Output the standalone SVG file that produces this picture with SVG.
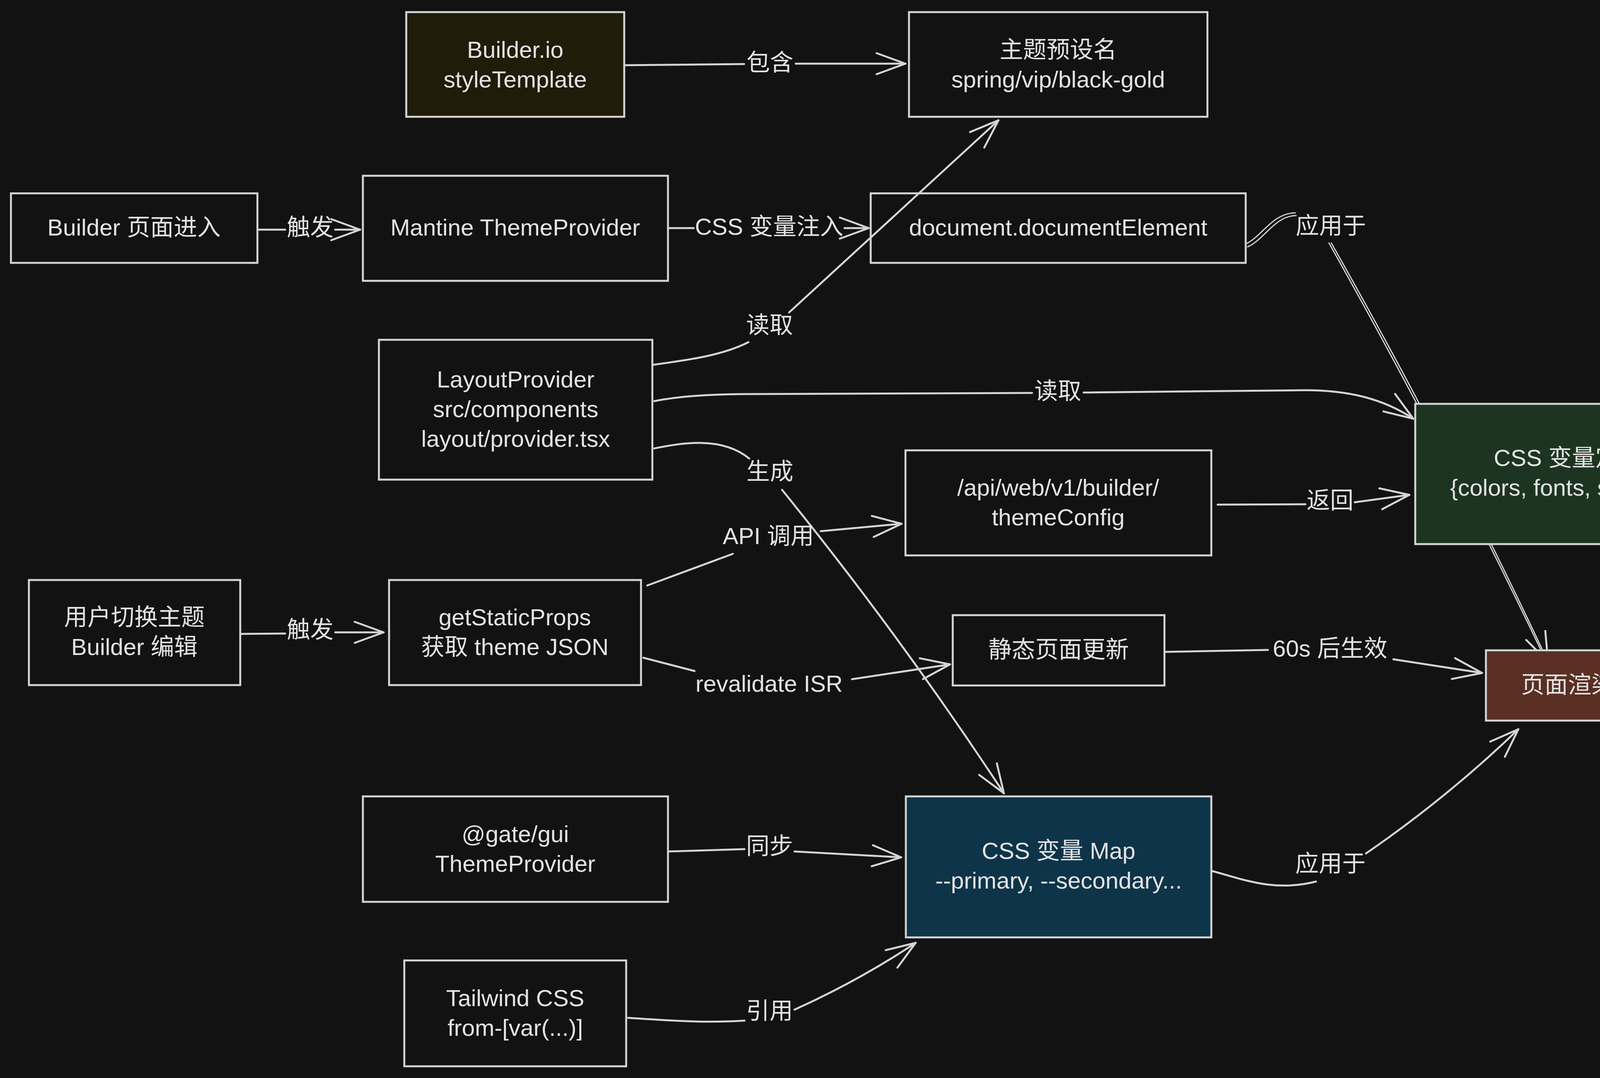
<svg xmlns="http://www.w3.org/2000/svg" width="4434" height="2760" viewBox="0 0 4434 2760">
<style>
.bg{fill:#121212}
.node{fill:none;stroke:#d4d4d4;stroke-width:5}
.t{font-family:"Liberation Sans","Noto Sans CJK SC",sans-serif;font-size:60px;fill:#e3e3e3;text-anchor:middle;dominant-baseline:central}
.e{fill:none;stroke:#d4d4d4;stroke-width:5;stroke-linecap:round;stroke-linejoin:round}
.e2{fill:none;stroke:#d4d4d4;stroke-width:3;stroke-linecap:round}
.arr{marker-end:url(#arr)}
</style>
<defs>
<marker id="arr" viewBox="-90 -45 100 90" refX="0" refY="0" markerWidth="100" markerHeight="90" markerUnits="userSpaceOnUse" orient="auto" overflow="visible">
<path d="M-74,-27 L0,0 L-74,27" fill="none" stroke="#d4d4d4" stroke-width="5" stroke-linecap="round" stroke-linejoin="round"/>
</marker>
</defs>
<rect class="bg" x="0" y="0" width="4434" height="2760"/>

<g id="connectors">
<!-- 包含 -->
<path class="e" d="M1598,167 L1905,164"/>
<path class="e arr" d="M2037,163 L2318,163"/>
<text class="t" x="1971" y="160">包含</text>
<!-- 触发 (top) -->
<path class="e" d="M660,588 L730,588"/>
<path class="e arr" d="M858,588 L922,588"/>
<text class="t" x="794" y="582">触发</text>
<!-- CSS 变量注入 -->
<path class="e" d="M1710,584 L1776,584"/>
<path class="e arr" d="M2162,584 L2224,584"/>
<text class="t" x="1969" y="580">CSS 变量注入</text>
<!-- 应用于 (documentElement -> 页面渲染) -->
<path class="e2" d="M3190,624 C3230,606 3258,545 3316,545"/>
<path class="e2" d="M3194,632 C3236,614 3264,552 3318,552"/>
<path class="e2" d="M3402,622 Q3698,1147 3958,1692"/>
<path class="e2 arr" d="M3408,622 Q3706,1147 3963,1694"/>
<text class="t" x="3407" y="578">应用于</text>
<!-- 读取 (-> 主题预设名) -->
<path class="e" d="M1672,934 C1760,922 1850,910 1916,876"/>
<path class="e arr" d="M2020,800 L2556,308"/>
<text class="t" x="1970" y="832">读取</text>
<!-- 读取 (-> CSS 变量定义) -->
<path class="e" d="M1675,1027 Q1760,1010 1900,1009 L2642,1006"/>
<path class="e arr" d="M2774,1005 L3340,999 C3450,999 3540,1020 3618,1072"/>
<text class="t" x="2708" y="1001">读取</text>
<!-- 生成 -->
<path class="e" d="M1675,1148 C1720,1140 1840,1110 1918,1174"/>
<path class="e arr" d="M2002,1254 Q2305,1628 2570,2031"/>
<text class="t" x="1971" y="1207">生成</text>
<!-- API 调用 -->
<path class="e" d="M1657,1499 L1876,1418"/>
<path class="e arr" d="M2101,1360 L2308,1341"/>
<text class="t" x="1967" y="1372">API 调用</text>
<!-- revalidate ISR -->
<path class="e" d="M1647,1684 L1778,1718"/>
<path class="e arr" d="M2181,1739 L2432,1701"/>
<text class="t" x="1969" y="1750">revalidate ISR</text>
<!-- 触发 (bottom) -->
<path class="e" d="M615,1623 L730,1622"/>
<path class="e arr" d="M858,1619 L982,1619"/>
<text class="t" x="794" y="1612">触发</text>
<!-- 返回 -->
<path class="e" d="M3117,1292 L3342,1291"/>
<path class="e arr" d="M3468,1286 L3608,1267"/>
<text class="t" x="3405" y="1281">返回</text>
<!-- 60s 后生效 -->
<path class="e" d="M2983,1669 L3246,1664"/>
<path class="e arr" d="M3567,1688 L3794,1723"/>
<text class="t" x="3405" y="1660">60s 后生效</text>
<!-- 同步 -->
<path class="e" d="M1711,2180 L1906,2174"/>
<path class="e arr" d="M2034,2180 L2307,2195"/>
<text class="t" x="1970" y="2166">同步</text>
<!-- 引用 -->
<path class="e" d="M1608,2606 C1700,2612 1800,2620 1906,2613"/>
<path class="e arr" d="M2034,2585 Q2200,2510 2344,2414"/>
<text class="t" x="1970" y="2588">引用</text>
<!-- 应用于 (CSS 变量 Map -> 页面渲染) -->
<path class="e" d="M3099,2229 C3180,2250 3260,2285 3369,2257"/>
<path class="e arr" d="M3497,2185 Q3705,2042 3887,1867"/>
<text class="t" x="3406" y="2211">应用于</text>
</g>

<g id="node-builderio">
<rect class="node" x="1040" y="31" width="558" height="268" style="fill:#211b09"/>
<text class="t" x="1319" y="127">Builder.io</text>
<text class="t" x="1319" y="203">styleTemplate</text>
</g>
<g id="node-preset">
<rect class="node" x="2327" y="31" width="764" height="268"/>
<text class="t" x="2709" y="127">主题预设名</text>
<text class="t" x="2709" y="203">spring/vip/black-gold</text>
</g>
<g id="node-builder-enter">
<rect class="node" x="28" y="495" width="631" height="178"/>
<text class="t" x="343" y="582">Builder 页面进入</text>
</g>
<g id="node-mantine">
<rect class="node" x="929" y="450" width="781" height="269"/>
<text class="t" x="1319" y="582">Mantine ThemeProvider</text>
</g>
<g id="node-docel">
<rect class="node" x="2229" y="495" width="960" height="178"/>
<text class="t" x="2709" y="582">document.documentElement</text>
</g>
<g id="node-layout">
<rect class="node" x="970" y="870" width="700" height="358"/>
<text class="t" x="1320" y="971">LayoutProvider</text>
<text class="t" x="1320" y="1047">src/components</text>
<text class="t" x="1320" y="1123">layout/provider.tsx</text>
</g>
<g id="node-api">
<rect class="node" x="2318" y="1153" width="783" height="269"/>
<text class="t" x="2709" y="1248">/api/web/v1/builder/</text>
<text class="t" x="2709" y="1324">themeConfig</text>
</g>
<g id="node-cssdef">
<rect class="node" x="3623" y="1034" width="783" height="359" style="fill:#1d3520"/>
<text class="t" x="4014" y="1172">CSS 变量定义</text>
<text class="t" x="4014" y="1248">{colors, fonts, spacing}</text>
</g>
<g id="node-user">
<rect class="node" x="74" y="1485" width="541" height="269"/>
<text class="t" x="344" y="1580">用户切换主题</text>
<text class="t" x="344" y="1656">Builder 编辑</text>
</g>
<g id="node-gsp">
<rect class="node" x="996" y="1485" width="645" height="269"/>
<text class="t" x="1318" y="1580">getStaticProps</text>
<text class="t" x="1318" y="1656">获取 theme JSON</text>
</g>
<g id="node-static">
<rect class="node" x="2439" y="1575" width="542" height="180"/>
<text class="t" x="2710" y="1663">静态页面更新</text>
</g>
<g id="node-render">
<rect class="node" x="3804" y="1665" width="420" height="180" style="fill:#5a2f24"/>
<text class="t" x="4014" y="1753">页面渲染</text>
</g>
<g id="node-gate">
<rect class="node" x="929" y="2039" width="781" height="270"/>
<text class="t" x="1319" y="2135">@gate/gui</text>
<text class="t" x="1319" y="2211">ThemeProvider</text>
</g>
<g id="node-cssmap">
<rect class="node" x="2319" y="2039" width="782" height="361" style="fill:#0e3449"/>
<text class="t" x="2710" y="2178">CSS 变量 Map</text>
<text class="t" x="2710" y="2254">--primary, --secondary...</text>
</g>
<g id="node-tailwind">
<rect class="node" x="1035" y="2459" width="568" height="271"/>
<text class="t" x="1319" y="2555">Tailwind CSS</text>
<text class="t" x="1319" y="2631">from-[var(...)]</text>
</g>
</svg>
